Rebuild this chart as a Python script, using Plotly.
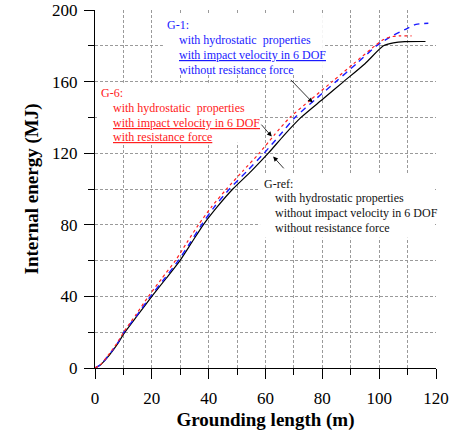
import plotly.graph_objects as go

# ---- data ----
gref_x = [0, 2, 4, 6, 8, 10.3, 15, 20, 25, 29.9, 34, 38.1, 43, 48.5, 55, 61, 66.5, 72.5, 80, 87.5, 95, 101.5, 105, 109, 116.3]
gref_y = [0, 1.8, 5.2, 9.2, 13.6, 19.5, 29.5, 40, 50, 60, 70, 80, 90, 100, 110, 120, 130, 140, 150, 160, 170, 180, 181.6, 182.3, 182.4]

g6_x = [0, 2, 4, 6, 8, 10, 14.5, 18.8, 23.5, 28.3, 32.3, 36.4, 41, 46.3, 52, 57.8, 63, 68.6, 76, 83.5, 91, 98.5, 101.5, 104, 107, 111.4]
g6_y = [0, 2.0, 5.8, 10.0, 14.5, 19.8, 30, 40, 50, 60, 70, 80, 90, 100, 110, 120, 130, 140, 150, 160, 170, 180, 183.5, 185, 185.5, 185.5]

g1_x = [0, 2, 4, 6, 8, 10, 15, 19.5, 24.5, 29.3, 33.5, 37.5, 42, 47.3, 53.5, 59.5, 65, 70.4, 77.5, 84.8, 92, 99.1, 104, 109, 113, 117.3]
g1_y = [0, 1.9, 5.5, 9.6, 14.0, 19.6, 30, 40, 50, 60, 70, 80, 90, 100, 110, 120, 130, 140, 150, 160, 170, 180, 185, 189, 192, 192.6]

x_ticks = [0, 20, 40, 60, 80, 100, 120]
y_ticks = [0, 40, 80, 120, 160, 200]

g1_lines = ["G-1:", "with hydrostatic  properties",
            "<span style='text-decoration:underline'>with impact velocity in 6 DOF</span>",
            "without resistance force"]
g6_lines = ["G-6:", "with hydrostatic  properties",
            "<span style='text-decoration:underline'>with impact velocity in 6 DOF</span>",
            "<span style='text-decoration:underline'>with resistance force</span>"]
gref_lines = ["G-ref:", "with hydrostatic properties",
              "without impact velocity in 6 DOF", "without resistance force"]

FONT = "Liberation Serif"

fig = go.Figure()
fig.add_trace(go.Scatter(x=gref_x, y=gref_y, mode="lines", name="G-ref",
                         line=dict(color="black", width=1.2, shape="spline", smoothing=0.6)))
fig.add_trace(go.Scatter(x=g1_x, y=g1_y, mode="lines", name="G-1",
                         line=dict(color="#1a1aff", width=1.4, dash="6px,5px", shape="spline", smoothing=0.6)))
fig.add_trace(go.Scatter(x=g6_x, y=g6_y, mode="lines", name="G-6",
                         line=dict(color="#ff2020", width=1.2, dash="dot", shape="spline", smoothing=0.6)))

shapes = []
for (x0, x1, y0, y1) in [(23.9, 80.2, 163.7, 198.3), (0.7, 57.4, 125.8, 159.3), (58.1, 119.6, 72.7, 108.2)]:
    shapes.append(dict(type="rect", xref="x", yref="y", x0=x0, x1=x1, y0=y0, y1=y1,
                       fillcolor="white", line=dict(width=0), layer="between"))

annotations = []
def block(lines, color, x_head, x_body, ys):
    for i, (t, y) in enumerate(zip(lines, ys)):
        annotations.append(dict(x=x_head if i == 0 else x_body, y=y, xref="x", yref="y",
                                text=t, showarrow=False, xanchor="left", yanchor="middle",
                                font=dict(family=FONT, size=12, color=color)))

block(g1_lines, "#1a1aff", 24.6, 29.0, [191.6, 183.3, 174.9, 166.5])
block(g6_lines, "#ff2020", 1.5, 5.7, [153.5, 145.5, 137.1, 128.9])
block(gref_lines, "#111111", 58.7, 62.5, [102.9, 94.8, 86.4, 78.0])

for (hx, hy, tx, ty) in [(76.6, 148.3, 68.4, 161.8), (62.2, 129.3, 58.1, 136.8), (62.7, 118.1, 66.9, 110.7)]:
    annotations.append(dict(x=hx, y=hy, ax=tx, ay=ty, xref="x", yref="y", axref="x", ayref="y",
                            text="", showarrow=True, arrowhead=2, arrowsize=1.2, arrowwidth=0.8,
                            arrowcolor="black", standoff=0))

GRID = dict(gridcolor="#9a9a9a", gridwidth=0.7, griddash="3px,2px")
axis_common = dict(showgrid=True, showline=True, linecolor="black", linewidth=1.2, ticks="outside",
                   ticklen=10, tickcolor="black", tickwidth=1, zeroline=False, automargin=False,
                   tickfont=dict(family=FONT, size=17, color="black"), **GRID)

fig.update_layout(
    width=456, height=432,
    margin=dict(l=95, r=20, t=10, b=64),
    plot_bgcolor="white", paper_bgcolor="white",
    showlegend=False,
    font=dict(family=FONT),
    shapes=shapes, annotations=annotations,
    xaxis=dict(range=[0, 120], tickvals=x_ticks, ticklabelstandoff=4,
               minor=dict(dtick=10, ticklen=6, ticks="outside", tickcolor="black",
                          showgrid=True, **GRID),
               title=dict(text="<b>Grounding length (m)</b>", standoff=6,
                          font=dict(family=FONT, size=19, color="black")),
               **axis_common),
    yaxis=dict(range=[0, 200], tickvals=y_ticks, ticklabelstandoff=3,
               minor=dict(dtick=20, ticklen=6, ticks="outside", tickcolor="black",
                          showgrid=True, **GRID),
               title=dict(text="<b>Internal energy (MJ)</b>", standoff=8,
                          font=dict(family=FONT, size=19, color="black")),
               **axis_common),
)

fig.write_html("out.html", config={"displayModeBar": False},
               post_script="document.body.style.margin='0';")
